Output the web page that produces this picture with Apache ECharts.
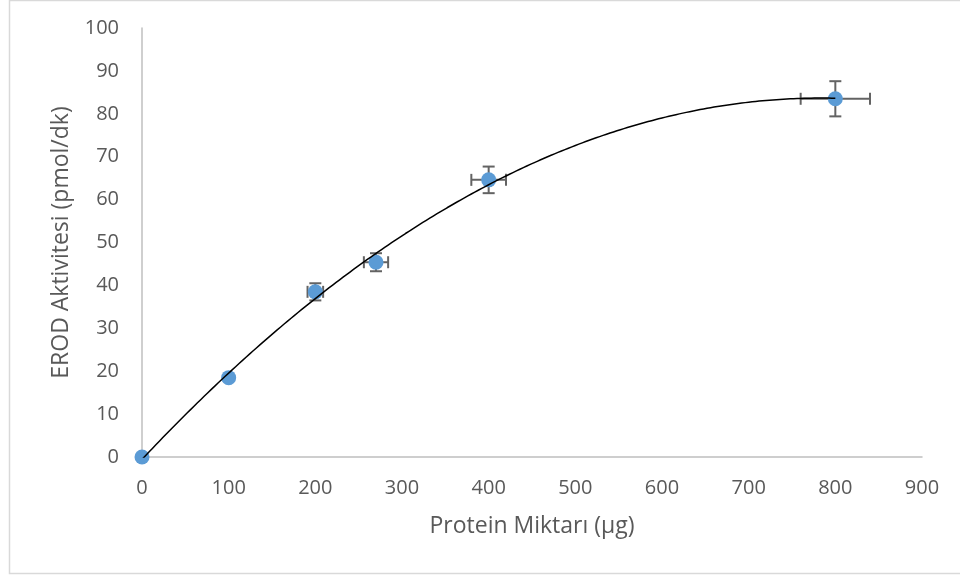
<!DOCTYPE html>
<html>
<head>
<meta charset="utf-8">
<script src="https://cdn.jsdelivr.net/npm/echarts@6/dist/echarts.min.js"></script>
<style>html,body{margin:0;padding:0;background:#fff}#c{width:960px;height:579px}</style>
</head>
<body>
<div id="c"></div>
<script>
// Data
var proteinX = [0, 100, 200, 270, 400, 800];
var erodY = [0, 18.5, 38.5, 45.4, 64.6, 83.5];
var xErr = [0, 0, 9, 14, 20, 40];
var yErr = [0, 0, 2, 2.1, 3.1, 4.1];
var xTicks = [0, 100, 200, 300, 400, 500, 600, 700, 800, 900];
var yTicks = [0, 10, 20, 30, 40, 50, 60, 70, 80, 90, 100];
var xTitle = 'Protein Miktarı (µg)';
var yTitle = 'EROD Aktivitesi (pmol/dk)';

// Polynomial (order 2) least-squares trendline, as Excel computes it
function polyFit2(xs, ys) {
  var n = xs.length, S = [0,0,0,0,0], T = [0,0,0];
  for (var i = 0; i < n; i++) {
    var p = 1;
    for (var k = 0; k < 5; k++) { S[k] += p; if (k < 3) T[k] += p * ys[i]; p *= xs[i]; }
  }
  var A = [[S[0],S[1],S[2],T[0]],[S[1],S[2],S[3],T[1]],[S[2],S[3],S[4],T[2]]];
  for (var c = 0; c < 3; c++) {
    for (var r = c + 1; r < 3; r++) {
      var f = A[r][c] / A[c][c];
      for (var j = c; j < 4; j++) A[r][j] -= f * A[c][j];
    }
  }
  var sol = [0,0,0];
  for (var r2 = 2; r2 >= 0; r2--) {
    var s = A[r2][3];
    for (var j2 = r2 + 1; j2 < 3; j2++) s -= A[r2][j2] * sol[j2];
    sol[r2] = s / A[r2][r2];
  }
  return sol;
}
var coef = polyFit2(proteinX, erodY);
var trend = [];
var xMinD = Math.min.apply(null, proteinX), xMaxD = Math.max.apply(null, proteinX);
for (var i = 0; i <= 200; i++) {
  var xv = xMinD + (xMaxD - xMinD) * i / 200;
  trend.push([xv, coef[0] + coef[1] * xv + coef[2] * xv * xv]);
}

var points = proteinX.map(function (x, i) { return [x, erodY[i]]; });
var errData = proteinX.map(function (x, i) { return [x, erodY[i], xErr[i], yErr[i]]; });

var chart = echarts.init(document.getElementById('c'));
var txt = '#595959';
var errColor = '#636363';
var font = 'Open Sans';
chart.setOption({
  animation: false,
  backgroundColor: '#fff',
  graphic: [{
    type: 'rect', shape: { x: 9.5, y: 0.5, width: 960, height: 573 },
    style: { fill: 'none', stroke: '#d9d9d9', lineWidth: 1.5 }, silent: true, z: -1
  }],
  grid: { left: 142, right: 38, top: 28, bottom: 122 },
  xAxis: {
    type: 'value', min: 0, max: 900, interval: 100,
    name: xTitle, nameLocation: 'middle', nameGap: 58,
    nameTextStyle: { color: txt, fontSize: 23, fontFamily: font },
    axisLine: { show: true, lineStyle: { color: '#bfbfbf', width: 1.5 } },
    axisTick: { show: false },
    splitLine: { show: false },
    axisLabel: { color: txt, fontSize: 20, fontFamily: font, margin: 21,
      formatter: function (v) { return xTicks.indexOf(v) >= 0 ? String(v) : ''; } }
  },
  yAxis: {
    type: 'value', min: 0, max: 100, interval: 10,
    name: yTitle, nameLocation: 'middle', nameGap: 69, nameRotate: 90,
    nameTextStyle: { color: txt, fontSize: 23, fontFamily: font },
    axisLine: { show: true, lineStyle: { color: '#bfbfbf', width: 1.5 } },
    axisTick: { show: false },
    splitLine: { show: false },
    axisLabel: { color: txt, fontSize: 20, fontFamily: font, margin: 23,
      formatter: function (v) { return yTicks.indexOf(v) >= 0 ? String(v) : ''; } }
  },
  series: [
    {
      type: 'custom', z: 2, data: errData,
      renderItem: function (params, api) {
        var x = api.value(0), y = api.value(1), ex = api.value(2), ey = api.value(3);
        var st = { stroke: errColor, lineWidth: 2, fill: null };
        var children = [];
        var cap = 6;
        if (ey > 0) {
          var t = api.coord([x, y + ey]), b = api.coord([x, y - ey]);
          children.push({ type: 'line', shape: { x1: t[0], y1: t[1], x2: b[0], y2: b[1] }, style: st });
          children.push({ type: 'line', shape: { x1: t[0] - cap, y1: t[1], x2: t[0] + cap, y2: t[1] }, style: st });
          children.push({ type: 'line', shape: { x1: b[0] - cap, y1: b[1], x2: b[0] + cap, y2: b[1] }, style: st });
        }
        if (ex > 0) {
          var l = api.coord([x - ex, y]), r = api.coord([x + ex, y]);
          children.push({ type: 'line', shape: { x1: l[0], y1: l[1], x2: r[0], y2: r[1] }, style: st });
          children.push({ type: 'line', shape: { x1: l[0], y1: l[1] - cap, x2: l[0], y2: l[1] + cap }, style: st });
          children.push({ type: 'line', shape: { x1: r[0], y1: r[1] - cap, x2: r[0], y2: r[1] + cap }, style: st });
        }
        return { type: 'group', children: children };
      }
    },
    {
      type: 'scatter', data: points, symbolSize: 15, z: 3,
      itemStyle: { color: '#5b9bd5', opacity: 1 }
    },
    {
      type: 'line', data: trend, showSymbol: false, smooth: false, z: 4,
      lineStyle: { color: '#000', width: 1.5 }
    }
  ]
});
</script>
</body>
</html>
